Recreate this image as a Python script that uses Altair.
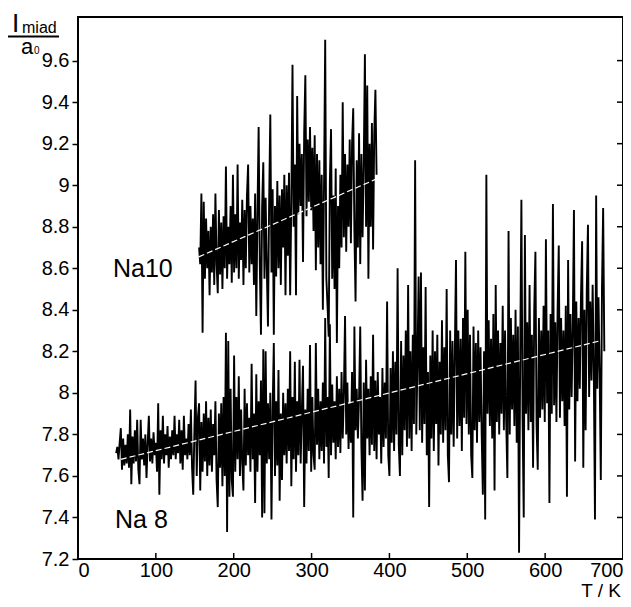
import altair as alt
import pandas as pd

FONT = "Liberation Sans"

x_ticks = [0, 100, 200, 300, 400, 500, 600, 700]
y_ticks = [7.2, 7.4, 7.6, 7.8, 8.0, 8.2, 8.4, 8.6, 8.8, 9.0, 9.2, 9.4, 9.6]

series_labels = ["Na10", "Na 8"]
axis_title_parts = ["I", "miad", "a", "0", "T / K"]

# Na10 cluster, sampled every 1.5 K from 155.5 K
na10_T_start = 155.5
na10_T_step = 1.5
na10_values = [
    8.70,
    8.62, 8.96, 8.29, 8.92, 8.55, 8.84, 8.60, 8.78, 8.47, 8.80,
    8.58, 8.86, 8.52, 8.96, 8.62, 8.48, 8.88, 8.57, 8.82, 8.50,
    8.85, 8.60, 9.09, 8.55, 8.80, 8.62, 8.90, 8.53, 9.05, 8.58,
    8.86, 8.60, 9.10, 8.55, 8.82, 8.64, 8.93, 8.52, 8.88, 8.60,
    8.95, 9.10, 8.58, 8.90, 8.62, 8.84, 8.52, 8.96, 8.37, 8.86,
    9.28, 8.62, 8.28, 8.90, 9.11, 8.55, 8.94, 8.60, 8.32, 8.92,
    9.34, 8.58, 8.98, 8.28, 8.90, 8.56, 9.02, 8.60, 8.95, 8.52,
    8.98, 8.70, 9.05, 8.47, 9.00, 8.66, 9.06, 8.47, 8.92, 9.58,
    8.80, 9.10, 8.47, 9.43, 8.86, 9.20, 8.90, 9.15, 8.63, 9.25,
    9.53, 8.85, 9.22, 8.92, 9.28, 8.88, 9.18, 8.78, 9.24, 8.59,
    9.15, 8.70, 9.12, 8.62, 9.05, 8.40, 9.00, 9.70, 8.55, 8.42,
    8.27, 9.02, 9.27, 8.55, 8.95, 8.50, 9.08, 8.24, 8.90, 8.60,
    9.05, 8.70, 9.40, 8.75, 9.15, 8.68, 9.10, 8.80, 9.22, 8.72,
    9.20, 9.37, 8.78, 8.44, 9.12, 8.70, 9.25, 8.62, 9.15, 8.75,
    9.10, 9.63, 8.80, 9.48, 8.55, 9.20, 8.80, 9.30, 8.69, 9.25,
    9.46, 9.05,
]

# Na8 cluster, sampled every 1.5 K from 49 K
na8_T_start = 49
na8_T_step = 1.5
na8_values = [
    7.71, 7.74, 7.68, 7.76, 7.83, 7.63, 7.78, 7.65, 7.75, 7.66,
    7.80, 7.64, 7.92, 7.56, 7.79, 7.66, 7.82, 7.67, 7.87, 7.63,
    7.56, 7.87, 7.68, 7.78, 7.65, 7.80, 7.59, 7.76, 7.89, 7.67,
    7.78, 7.66, 7.81, 7.70, 7.76, 7.62, 7.95, 7.51, 7.82, 7.68,
    7.89, 7.66, 7.80, 7.70, 7.84, 7.64, 7.79, 7.68, 7.82, 7.70,
    7.89, 7.68, 7.80, 7.71, 7.87, 7.66, 7.82, 7.63, 7.89, 7.70,
    7.78, 7.68, 7.85, 7.70, 7.92, 7.64, 7.51, 7.82, 8.06, 7.60,
    7.88, 7.95, 7.53, 7.86, 7.62, 7.90, 7.67, 7.96, 7.60, 7.88,
    7.65, 7.92, 7.62, 7.85, 7.70, 7.96, 7.58, 7.45, 7.90, 7.64,
    7.95, 7.55, 7.98, 7.60, 8.29, 7.33, 8.25, 7.50, 8.02, 7.58,
    7.50, 8.18, 7.62, 7.98, 7.68, 8.08, 7.60, 7.92, 7.66, 7.53,
    8.02, 7.65, 7.95, 7.70, 7.88, 7.62, 8.14, 7.68, 7.90, 7.47,
    8.09, 7.62, 7.96, 7.70, 8.06, 7.40, 8.21, 7.42, 8.20, 7.66,
    7.95, 7.68, 8.00, 7.39, 7.92, 8.24, 7.60, 7.96, 7.65, 8.11,
    7.48, 7.90, 7.58, 8.00, 7.70, 7.95, 7.66, 8.02, 7.72, 8.20,
    7.55, 7.98, 7.68, 8.15, 7.62, 7.96, 7.70, 8.16, 7.66, 7.92,
    8.13, 7.45, 7.92, 7.66, 8.02, 7.72, 8.23, 7.62, 7.98, 7.70,
    7.63, 8.24, 7.75, 8.02, 7.68, 7.96, 7.72, 8.05, 7.66, 8.36,
    7.74, 7.98, 7.59, 8.33, 7.70, 8.04, 7.76, 7.96, 7.68, 8.08,
    7.74, 8.02, 7.71, 8.10, 7.78, 8.00, 8.37, 7.80, 8.05, 7.73,
    7.95, 7.76, 8.10, 7.40, 8.32, 7.82, 8.02, 7.78, 7.98, 8.32,
    7.74, 7.48, 8.05, 7.53, 8.16, 7.78, 8.02, 7.70, 8.08, 7.75,
    8.28, 7.72, 8.06, 7.68, 8.10, 7.80, 7.98, 7.66, 8.12, 7.74,
    8.05, 7.78, 8.44, 7.70, 7.60, 8.12, 7.76, 8.20, 7.72, 8.15,
    7.80, 8.60, 7.75, 7.60, 8.25, 7.70, 8.18, 7.82, 8.30, 7.74,
    8.52, 7.78, 8.20, 7.72, 8.28, 7.85, 9.12, 7.80, 8.15, 8.56,
    7.82, 8.58, 7.76, 8.22, 7.85, 8.51, 7.70, 8.10, 7.45, 8.18,
    7.78, 8.30, 7.72, 8.20, 7.85, 8.28, 7.65, 8.15, 7.80, 8.35,
    7.76, 8.22, 7.82, 8.50, 7.70, 7.57, 8.30, 7.80, 8.25, 7.74,
    8.20, 8.64, 7.78, 8.30, 7.84, 8.26, 7.72, 8.36, 7.88, 8.68,
    7.85, 8.40, 7.80, 8.28, 7.70, 7.59, 8.32, 7.82, 8.24, 7.76,
    8.30, 7.86, 8.22, 7.80, 7.51, 8.20, 7.39, 9.05, 7.90, 8.35,
    7.84, 8.26, 7.78, 8.38, 7.53, 8.52, 7.86, 8.30, 7.80, 8.24,
    7.90, 8.42, 7.82, 8.30, 7.86, 7.59, 8.78, 7.80, 8.36, 7.92,
    8.28, 7.84, 8.40, 7.76, 8.32, 7.23, 8.20, 8.93, 7.88, 7.40,
    8.76, 7.90, 8.34, 7.82, 8.52, 7.86, 8.28, 7.64, 8.40, 8.68,
    7.84, 7.63, 8.36, 7.88, 8.30, 7.92, 8.42, 7.86, 8.74, 7.95,
    8.30, 7.47, 8.38, 7.90, 8.91, 7.94, 8.34, 7.86, 8.40, 8.71,
    7.88, 8.36, 7.96, 8.30, 7.84, 8.42, 7.50, 8.64, 7.92, 8.38,
    7.98, 8.32, 8.88, 7.67, 8.44, 7.96, 8.36, 8.02, 8.46, 8.73,
    7.64, 8.40, 7.82, 8.50, 8.81, 7.98, 8.44, 8.06, 8.52, 8.10,
    7.39, 8.95, 8.02, 8.46, 8.10, 7.58, 8.50, 8.89, 8.20,
]

# fitted (white dashed) trend lines: endpoints
trend_series = ["Na10", "Na10", "Na8", "Na8"]
trend_T = [155, 382, 55, 670]
trend_v = [8.655, 9.028, 7.68, 8.25]

W, H = 545, 542

df = pd.concat([
    pd.DataFrame({"T": [na10_T_start + i * na10_T_step for i in range(len(na10_values))],
                  "v": na10_values, "series": "Na10"}),
    pd.DataFrame({"T": [na8_T_start + i * na8_T_step for i in range(len(na8_values))],
                  "v": na8_values, "series": "Na8"}),
], ignore_index=True)
df_trend = pd.DataFrame({"T": trend_T, "v": trend_v, "series": trend_series})

xs = alt.Scale(domain=[0, 700], nice=False, zero=False)
ys = alt.Scale(domain=[7.2, 9.81], nice=False, zero=False)

x_axis = alt.Axis(values=x_ticks, ticks=False, labelFontSize=20, labelFont=FONT,
                  labelColor="black", labelPadding=1, domain=False, grid=False,
                  title=None)
y_axis = alt.Axis(values=y_ticks, tickSize=6, tickWidth=1.5, tickColor="black",
                  labelFontSize=20, labelFont=FONT, labelColor="black",
                  labelPadding=3, domain=False, grid=False, title=None,
                  labelExpr="replace(format(datum.value, '.1f'), '.0', '')")

X = alt.X("T:Q", scale=xs, axis=x_axis)
Y = alt.Y("v:Q", scale=ys, axis=y_axis)

lines = alt.Chart(df).mark_line(color="black", strokeWidth=1.9).encode(
    x=X, y=Y, detail="series:N",
)

trend = alt.Chart(df_trend).mark_line(color="white", strokeWidth=1.2,
                                      strokeDash=[6, 3]).encode(
    x=X, y=Y, detail="series:N",
)

bottom_ticks = alt.Chart(pd.DataFrame({"T": x_ticks})).mark_rule(
    color="black", strokeWidth=1.5).encode(
    x=X, y=alt.value(H), y2=alt.value(H - 6),
)

right_ticks = alt.Chart(pd.DataFrame({"v": y_ticks})).mark_rule(
    color="black", strokeWidth=1.5).encode(
    y=Y, x=alt.value(W - 6), x2=alt.value(W),
)


def text_layer(txt, x, y, size, align="left"):
    return alt.Chart(pd.DataFrame({"t": [txt]})).mark_text(
        font=FONT, fontSize=size, color="black", align=align,
        baseline="alphabetic").encode(
        x=alt.value(x), y=alt.value(y), text="t:N")


na10_label = text_layer(series_labels[0], 35, 260, 25)
na8_label = text_layer(series_labels[1], 37, 511, 25)

title_I = text_layer(axis_title_parts[0], -66, 15, 26)
title_miad = text_layer(axis_title_parts[1], -56, 16, 16)
title_a = text_layer(axis_title_parts[2], -57, 37, 22)
title_0 = text_layer(axis_title_parts[3], -44, 37, 10)
title_T = text_layer(axis_title_parts[4], W - 2, 580, 19, align="right")

frac_bar = alt.Chart(pd.DataFrame({"t": [axis_title_parts[0]]})).mark_rule(
    color="black", strokeWidth=2).encode(
    x=alt.value(-70), x2=alt.value(-19), y=alt.value(19.5))

chart = alt.layer(
    lines, trend, bottom_ticks, right_ticks,
    na10_label, na8_label,
    title_I, title_miad, frac_bar, title_a, title_0, title_T,
).properties(
    width=W, height=H,
    autosize=alt.AutoSizeParams(type="none"),
    padding={"left": 70, "top": 9, "right": 0, "bottom": 42},
).configure_view(stroke="black", strokeWidth=2)

chart.save("out.html", embed_options={"renderer": "svg", "actions": False})
